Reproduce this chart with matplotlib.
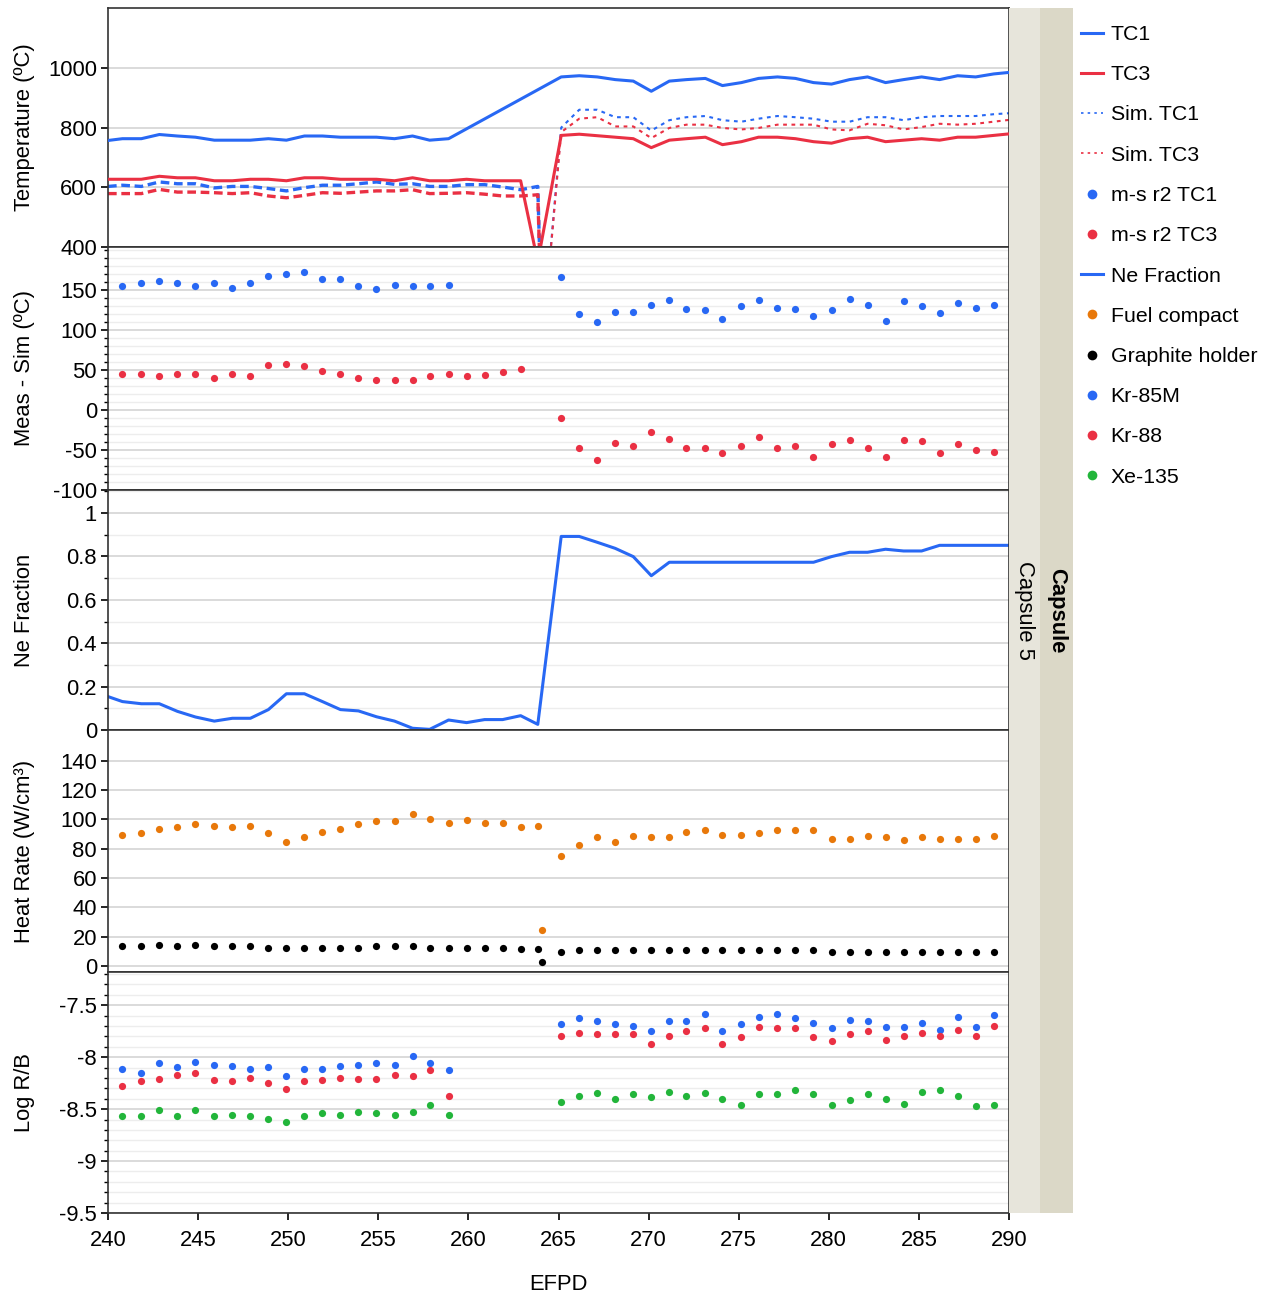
import matplotlib
matplotlib.use("Agg")
import matplotlib.pyplot as plt
from matplotlib.lines import Line2D
from matplotlib.ticker import MultipleLocator

plt.rcParams['font.family'] = ['Liberation Sans', 'DejaVu Sans']
plt.rcParams['axes.unicode_minus'] = False

# ---------------- data ----------------
efpd_pre = [240.8, 241.85, 242.85, 243.85, 244.85, 245.9, 246.9, 247.9, 248.9, 249.9,
            250.9, 251.9, 252.9, 253.9, 254.9, 255.9, 256.9, 257.85, 258.9, 259.9,
            260.9, 261.9, 262.9, 263.85]
efpd_dip = 264.1
efpd_post = [265.15, 266.15, 267.15, 268.15, 269.15, 270.15, 271.15, 272.1, 273.15, 274.1,
             275.15, 276.1, 277.15, 278.15, 279.15, 280.15, 281.15, 282.15, 283.15, 284.15,
             285.15, 286.15, 287.15, 288.15, 289.15]
efpd_start = 240.0
efpd_end = 290.15

# Temperatures (ºC)
tc1_pre = [757, 763, 763, 777, 772, 768, 758, 758, 758, 763, 758, 772, 772, 768, 768, 768,
           763, 772, 758, 763]                       # 240.0 + first 19 days
tc1_post = [970, 974, 970, 961, 956, 922, 956, 961, 965, 941, 951, 965, 970, 965, 951, 946,
            961, 970, 951, 961, 970, 961, 974, 970, 980, 986]
tc3_pre = [627, 627, 627, 637, 632, 632, 622, 622, 627, 627, 622, 632, 632, 627, 627, 627,
           622, 632, 622, 622, 627, 622, 622, 622, 350]
tc3_post = [774, 778, 773, 768, 763, 733, 758, 763, 768, 743, 753, 768, 768, 763, 753, 748,
            763, 768, 753, 758, 763, 758, 768, 768, 774, 780]
sim_tc1_pre = [603, 607, 603, 618, 612, 612, 598, 603, 603, 596, 588, 599, 607, 607, 612,
               618, 610, 612, 603, 603, 609, 609, 601, 592, 603]
sim_tc1_dip = 70
sim_tc1_post = [800, 860, 860, 835, 835, 790, 825, 835, 839, 825, 820, 830, 839, 835, 830,
                820, 820, 835, 835, 825, 835, 839, 839, 839, 845, 849]
sim_tc3_pre = [579, 579, 579, 593, 584, 584, 582, 579, 582, 571, 565, 573, 582, 580, 584,
               588, 588, 592, 579, 580, 582, 577, 571, 571, 575]
sim_tc3_dip = 70
sim_tc3_post = [785, 830, 835, 804, 804, 765, 799, 810, 810, 799, 794, 799, 810, 810, 810,
                794, 791, 813, 808, 794, 802, 813, 810, 813, 820, 827]

# Meas - Sim (ºC)
ms_tc1_pre = [155, 159, 161, 159, 155, 159, 153, 159, 168, 170, 173, 164, 164, 155, 152,
              157, 155, 155, 157]
ms_tc1_post = [166, 120, 110, 123, 123, 132, 138, 127, 125, 114, 130, 138, 128, 127, 118,
               125, 139, 132, 112, 136, 130, 121, 134, 128, 132]
ms_tc3_pre = [45, 45, 42, 45, 45, 40, 45, 42, 56, 58, 55, 49, 45, 40, 38, 38, 37, 42, 45,
              42, 44, 47, 51]
ms_tc3_post = [-10, -48, -62, -41, -45, -27, -36, -48, -48, -54, -45, -34, -47, -45, -59,
               -43, -38, -48, -59, -38, -39, -54, -43, -50, -52]

# Ne fraction
ne_pre = [0.154, 0.131, 0.121, 0.121, 0.086, 0.060, 0.041, 0.054, 0.054, 0.094, 0.167,
          0.167, 0.131, 0.094, 0.088, 0.061, 0.041, 0.008, 0.003, 0.046, 0.034, 0.048,
          0.048, 0.066, 0.026]
ne_post = [0.892, 0.892, 0.865, 0.837, 0.799, 0.711, 0.773, 0.773, 0.773, 0.773, 0.773,
           0.773, 0.773, 0.773, 0.773, 0.799, 0.819, 0.819, 0.833, 0.825, 0.825, 0.851,
           0.851, 0.851, 0.851, 0.851]

# Heat rate (W/cm3)
fuel_pre = [89.6, 90.8, 93.7, 94.6, 96.7, 95.6, 94.6, 95.6, 90.8, 84.8, 87.8, 91.7, 93.7,
            96.7, 98.7, 98.7, 103.5, 100.6, 97.6, 99.7, 97.6, 97.6, 94.6, 95.6]
fuel_dip = 24.6
fuel_post = [75.0, 82.8, 87.8, 84.8, 88.7, 87.8, 87.8, 91.7, 92.6, 89.6, 89.6, 90.8, 92.6,
             92.6, 92.6, 86.7, 86.7, 88.7, 87.8, 85.7, 87.8, 86.7, 86.7, 86.7, 88.7]
graphite_pre = [13.7, 13.7, 14.6, 13.7, 14.6, 13.7, 13.7, 13.7, 12.5, 12.5, 12.5, 12.5,
                12.5, 12.5, 13.7, 13.7, 13.7, 12.5, 12.5, 12.5, 12.5, 12.5, 11.6, 11.6]
graphite_dip = 3.0
graphite_post = [9.6, 10.7, 10.7, 10.7, 10.7, 10.7, 10.7, 10.7, 10.7, 10.7, 10.7, 10.7,
                 10.7, 10.7, 10.7, 9.6, 9.6, 9.6, 9.6, 9.6, 9.6, 9.6, 9.6, 9.6, 9.6]

# Log R/B
kr85m_pre = [-8.112, -8.151, -8.054, -8.096, -8.042, -8.071, -8.083, -8.112, -8.096, -8.179,
             -8.112, -8.112, -8.083, -8.071, -8.054, -8.071, -7.987, -8.054, -8.125]
kr88_pre = [-8.276, -8.234, -8.208, -8.167, -8.154, -8.221, -8.234, -8.196, -8.25, -8.304,
            -8.234, -8.221, -8.196, -8.208, -8.208, -8.167, -8.179, -8.125, -8.372]
xe135_pre = [-8.567, -8.567, -8.513, -8.567, -8.513, -8.567, -8.554, -8.567, -8.596, -8.625,
             -8.567, -8.542, -8.554, -8.526, -8.542, -8.554, -8.526, -8.458, -8.554]
kr85m_post = [-7.679, -7.625, -7.654, -7.679, -7.696, -7.75, -7.654, -7.654, -7.583, -7.75,
              -7.679, -7.612, -7.583, -7.625, -7.667, -7.721, -7.638, -7.654, -7.708, -7.708,
              -7.667, -7.734, -7.612, -7.708, -7.596]
kr88_post = [-7.792, -7.763, -7.779, -7.779, -7.779, -7.875, -7.792, -7.75, -7.721, -7.875,
             -7.804, -7.708, -7.721, -7.721, -7.804, -7.846, -7.779, -7.75, -7.833, -7.792,
             -7.763, -7.792, -7.737, -7.792, -7.696]
xe135_post = [-8.429, -8.375, -8.346, -8.4, -8.359, -8.388, -8.333, -8.375, -8.346, -8.4,
              -8.458, -8.359, -8.359, -8.317, -8.359, -8.458, -8.417, -8.359, -8.4, -8.446,
              -8.333, -8.317, -8.375, -8.471, -8.458]

x_ticks = [240, 245, 250, 255, 260, 265, 270, 275, 280, 285, 290]
legend_labels = ['TC1', 'TC3', 'Sim. TC1', 'Sim. TC3', 'm-s r2 TC1', 'm-s r2 TC3',
                 'Ne Fraction', 'Fuel compact', 'Graphite holder', 'Kr-85M', 'Kr-88', 'Xe-135']
strip_outer = 'Capsule'
strip_inner = 'Capsule 5'

# ---------------- style ----------------
BLUE = '#2868F4'
RED = '#EA3043'
ORANGE = '#E8780A'
BLACK = '#000000'
GREEN = '#22B53A'
GRID = '#D4D4D4'
GRID_MINOR = '#EDEDED'
FS = 15.8
LFS = 15.3
MS = 5.2

W, H = 1270, 1298
fig = plt.figure(figsize=(W / 100, H / 100), dpi=100)

left_px, right_px = 108, 1009
panels_px = [(8, 247), (247, 490), (490, 730), (730, 972), (972, 1213)]
axes = []
for top, bot in panels_px:
    ax = fig.add_axes([left_px / W, 1 - bot / H, (right_px - left_px) / W, (bot - top) / H])
    axes.append(ax)

ylims = [(400, 1201), (-100, 204), (0, 1.106), (-4.1, 161), (-9.5, -7.18)]
ymaj = [200, 50, 0.2, 20, 0.5]
ymin = [None, 10, 0.1, None, 0.1]
ylabels = ['Temperature (ºC)', 'Meas - Sim (ºC)', 'Ne Fraction', 'Heat Rate (W/cm³)', 'Log R/B']

for i, ax in enumerate(axes):
    ax.set_xlim(240, 290)
    ax.set_ylim(*ylims[i])
    ax.yaxis.set_major_locator(MultipleLocator(ymaj[i]))
    if ymin[i]:
        ax.yaxis.set_minor_locator(MultipleLocator(ymin[i]))
        ax.grid(True, which='minor', axis='y', color=GRID_MINOR, lw=1.0, zorder=0)
    ax.grid(True, which='major', axis='y', color=GRID, lw=1.2, zorder=0)
    ax.set_axisbelow(True)
    ax.tick_params(axis='y', which='major', direction='out', length=5, width=1.2,
                   labelsize=FS, colors='#000000', pad=3)
    ax.tick_params(axis='y', which='minor', direction='out', length=3, width=1.0)
    ax.set_xticks(x_ticks)
    ax.tick_params(axis='x', direction='out', length=5, width=1.2, labelsize=FS, pad=7)
    if i < len(axes) - 1:
        ax.tick_params(axis='x', labelbottom=False, length=0)
    for sp in ax.spines.values():
        sp.set_color('#333333')
        sp.set_linewidth(1.2)
    ax.set_ylabel(ylabels[i], fontsize=FS)
    ax.yaxis.set_label_coords(-0.081, 0.5)

axes[0].set_yticks([400, 600, 800, 1000])
axes[1].set_yticks([-100, -50, 0, 50, 100, 150])
axes[2].set_yticks([0, 0.2, 0.4, 0.6, 0.8, 1])
axes[2].set_yticklabels(['0', '0.2', '0.4', '0.6', '0.8', '1'])
axes[3].set_yticks([0, 20, 40, 60, 80, 100, 120, 140])
axes[4].set_yticks([-9.5, -9, -8.5, -8, -7.5])
axes[4].set_yticklabels(['-9.5', '-9', '-8.5', '-8', '-7.5'])
axes[4].set_xlabel('EFPD', fontsize=FS, labelpad=17)

# ---- panel 1: temperatures
ax = axes[0]
x_tc1 = [efpd_start] + efpd_pre[:19] + efpd_post + [efpd_end]
ax.plot(x_tc1, tc1_pre + tc1_post, color=BLUE, lw=2.2, zorder=3)
x_tc3 = [efpd_start] + efpd_pre + efpd_post + [efpd_end]
ax.plot(x_tc3, tc3_pre + tc3_post, color=RED, lw=2.2, zorder=3)
x_sim_pre = [efpd_start] + efpd_pre + [efpd_dip]
x_sim_post = [efpd_dip] + efpd_post + [efpd_end]
ax.plot(x_sim_pre, sim_tc1_pre + [sim_tc1_dip], color=BLUE, lw=2.4, ls=(0, (2.6, 1.4)), zorder=2)
ax.plot(x_sim_post, [sim_tc1_dip] + sim_tc1_post, color=BLUE, lw=1.5, ls=(0, (1.8, 2.2)), zorder=2)
ax.plot(x_sim_pre, sim_tc3_pre + [sim_tc3_dip], color=RED, lw=2.4, ls=(0, (2.6, 1.4)), zorder=2)
ax.plot(x_sim_post, [sim_tc3_dip] + sim_tc3_post, color=RED, lw=1.5, ls=(0, (1.8, 2.2)), zorder=2)

# ---- panel 2: meas - sim
ax = axes[1]
ax.plot(efpd_pre[:19] + efpd_post, ms_tc1_pre + ms_tc1_post, 'o', color=BLUE, ms=MS, mec='none')
ax.plot(efpd_pre[:23] + efpd_post, ms_tc3_pre + ms_tc3_post, 'o', color=RED, ms=MS, mec='none')

# ---- panel 3: Ne fraction
ax = axes[2]
ax.plot([efpd_start] + efpd_pre + efpd_post + [efpd_end], ne_pre + ne_post, color=BLUE, lw=2.2)

# ---- panel 4: heat rate
ax = axes[3]
x_hr = efpd_pre + [efpd_dip] + efpd_post
ax.plot(x_hr, fuel_pre + [fuel_dip] + fuel_post, 'o', color=ORANGE, ms=MS, mec='none')
ax.plot(x_hr, graphite_pre + [graphite_dip] + graphite_post, 'o', color=BLACK, ms=MS, mec='none')

# ---- panel 5: log R/B
ax = axes[4]
x_rb = efpd_pre[:19] + efpd_post
ax.plot(x_rb, kr85m_pre + kr85m_post, 'o', color=BLUE, ms=MS, mec='none', zorder=3)
ax.plot(x_rb, kr88_pre + kr88_post, 'o', color=RED, ms=MS, mec='none', zorder=3)
ax.plot(x_rb, xe135_pre + xe135_post, 'o', color=GREEN, ms=MS, mec='none', zorder=3)

# ---- right strip
sax = fig.add_axes([1009 / W, 1 - 1213 / H, 64 / W, (1213 - 8) / H])
sax.set_xlim(0, 64)
sax.set_ylim(0, 1)
sax.axvspan(0, 31, color='#E7E5DB', lw=0)
sax.axvspan(31, 64, color='#DBD8C7', lw=0)
sax.set_axis_off()
sax.text(16, 0.5, strip_inner, rotation=-90, ha='center', va='center', fontsize=FS)
sax.text(48, 0.5, strip_outer, rotation=-90, ha='center', va='center', fontsize=FS,
         fontweight='bold')

# ---- legend
handles = [
    Line2D([], [], color=BLUE, lw=2.2),
    Line2D([], [], color=RED, lw=2.2),
    Line2D([], [], color=BLUE, lw=1.2, ls=(0, (1.5, 2.5))),
    Line2D([], [], color=RED, lw=1.2, ls=(0, (1.5, 2.5))),
    Line2D([], [], color=BLUE, ls='none', marker='o', ms=7, mec='none'),
    Line2D([], [], color=RED, ls='none', marker='o', ms=7, mec='none'),
    Line2D([], [], color=BLUE, lw=2.2),
    Line2D([], [], color=ORANGE, ls='none', marker='o', ms=7, mec='none'),
    Line2D([], [], color=BLACK, ls='none', marker='o', ms=7, mec='none'),
    Line2D([], [], color=BLUE, ls='none', marker='o', ms=7, mec='none'),
    Line2D([], [], color=RED, ls='none', marker='o', ms=7, mec='none'),
    Line2D([], [], color=GREEN, ls='none', marker='o', ms=7, mec='none'),
]
fig.legend(handles, legend_labels, loc='upper left', bbox_to_anchor=(1081 / W, 1 - 25 / H),
           frameon=False, fontsize=LFS, handlelength=1.05, handletextpad=0.35,
           labelspacing=1.0, borderaxespad=0, borderpad=0)

fig.savefig('out.png', dpi=100)
